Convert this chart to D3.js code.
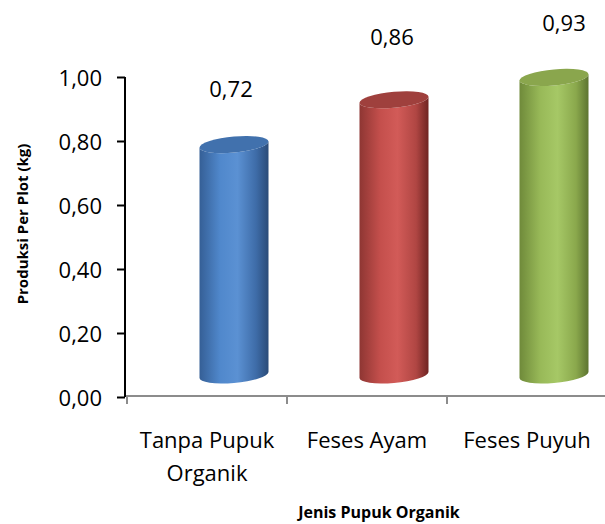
<!DOCTYPE html>
<html>
<head>
<meta charset="utf-8">
<script src="https://cdn.jsdelivr.net/npm/d3@7/dist/d3.min.js"></script>
<style>
	body { margin: 0; background: #fff; }
	svg { display: block; font-family: "Open Sans", sans-serif; }
</style>
</head>
<body>
<div id="chart"></div>
<script>
// data
var categories = [["Tanpa Pupuk", "Organik"], ["Feses Ayam"], ["Feses Puyuh"]];
var values = [0.72, 0.86, 0.93];
var yTicks = [0, 0.2, 0.4, 0.6, 0.8, 1.0];
var colors = [
	{ body: ["#355f96", "#5088cc", "#5b91d3", "#3e6ca8", "#2a4b78"], top: "#4171ad" }
, { body: ["#8e3633", "#c44f4c", "#d25b58", "#b04643", "#6f2422"], top: "#9f403d" }
, { body: ["#6f8a3a", "#98b958", "#a6c866", "#8aa84c", "#5d7430"], top: "#8aa64d" }
];

var width = 605, height = 524;
var margin = { left: 125, right: 0, top: 78, bottom: 126 };
// 3d depth shift of the bars relative to the floor
var depth = { dx: 27, dy: -23 };
var barW = 69, ry = 8, tilt = -5;
// small label nudges (Excel places them a bit irregularly)
var labelShift = [{ x: -3, y: -2 }, { x: -2, y: -9 }, { x: 10, y: 0 }];

var comma = d3.formatLocale({ decimal: ",", thousands: ".", grouping: [3], currency: ["", ""] });
var fmt = comma.format(".2f");

var svg = d3.select('#chart').append('svg')
	.attr('width', width)
	.attr('height', height);

var x = d3.scaleBand()
	.domain(d3.range(categories.length))
	.range([127, 607]);

var y = d3.scaleLinear()
	.domain([0, 1])
	.range([height - margin.bottom, margin.top]);

var defs = svg.append('defs');
colors.forEach(function(c, i) {
	var g = defs.append('linearGradient')
		.attr('id', 'cyl' + i)
		.attr('x1', 0).attr('x2', 1).attr('y1', 0).attr('y2', 0);
	var stops = [0, 0.3, 0.55, 0.82, 1];
	c.body.forEach(function(col, k) {
		g.append('stop').attr('offset', stops[k]).attr('stop-color', col);
	});
});

// floor line + category ticks
svg.append('line')
	.attr('x1', 125).attr('x2', width)
	.attr('y1', y(0) - 2).attr('y2', y(0) - 2)
	.attr('stroke', '#8c8c8c').attr('stroke-width', 2);

var xTickPos = x.domain().map(function(d) { return x(d); }).concat([x.range()[1]]);
svg.selectAll('.xtick')
	.data(xTickPos)
	.enter().append('line')
	.attr('class', 'xtick')
	.attr('x1', function(d) { return d; }).attr('x2', function(d) { return d; })
	.attr('y1', y(0) - 2).attr('y2', y(0) + 6)
	.attr('stroke', '#8c8c8c').attr('stroke-width', 2);

// y axis
var yAxis = d3.axisLeft(y)
	.tickValues(yTicks)
	.tickFormat(fmt)
	.tickSize(8)
	.tickPadding(15);

var ga = svg.append('g')
	.attr('transform', 'translate(' + 125 + ',0)')
	.call(yAxis);
ga.select('.domain').attr('stroke', '#000').attr('stroke-width', 2)
	.attr('d', 'M0,' + (y(1) - 1) + 'V' + (y(0) - 1));
ga.selectAll('.tick line').attr('stroke', '#000').attr('stroke-width', 2)
	.attr('transform', 'translate(0,-1)');
ga.selectAll('.tick text')
	.attr('fill', '#000')
	.style('font-size', '22px')
	.style('font-family', '"Open Sans", sans-serif')
	.attr('dy', '0.36em');

// cylinders
var bars = svg.selectAll('.bar')
	.data(values)
	.enter().append('g')
	.attr('class', 'bar')
	.attr('transform', function(d, i) {
		var cx = x(i) + x.bandwidth() / 2 + depth.dx;
		return 'translate(' + cx + ',0) skewY(' + tilt + ')';
	});

bars.append('path')
	.attr('fill', function(d, i) { return 'url(#cyl' + i + ')'; })
	.attr('d', function(d) {
		var top = y(d) + depth.dy, bot = y(0) + depth.dy, r = barW / 2;
		return 'M' + (-r) + ',' + top +
			'V' + bot +
			'A' + r + ',' + ry + ' 0 0 0 ' + r + ',' + bot +
			'V' + top +
			'A' + r + ',' + ry + ' 0 0 1 ' + (-r) + ',' + top + 'Z';
	});

bars.append('ellipse')
	.attr('cx', 0)
	.attr('cy', function(d) { return y(d) + depth.dy; })
	.attr('rx', barW / 2)
	.attr('ry', ry)
	.attr('fill', function(d, i) { return colors[i].top; });

// value labels
svg.selectAll('.val')
	.data(values)
	.enter().append('text')
	.attr('class', 'val')
	.attr('x', function(d, i) { return x(i) + x.bandwidth() / 2 + depth.dx + labelShift[i].x; })
	.attr('y', function(d, i) { return y(d) + depth.dy - ry - 38 + labelShift[i].y; })
	.attr('text-anchor', 'middle')
	.style('font-size', '22px')
	.text(function(d) { return fmt(d); });

// category labels
var cat = svg.selectAll('.cat')
	.data(categories)
	.enter().append('text')
	.attr('class', 'cat')
	.attr('text-anchor', 'middle')
	.style('font-size', '22px')
	.attr('transform', function(d, i) { return 'translate(' + (x(i) + x.bandwidth() / 2) + ',' + 448 + ')'; });
cat.selectAll('tspan')
	.data(function(d) { return d; })
	.enter().append('tspan')
	.attr('x', 0)
	.attr('dy', function(d, k) { return k ? 33 : 0; })
	.text(function(d) { return d; });

// axis titles
svg.append('text')
	.attr('transform', 'translate(28,224) rotate(-90)')
	.attr('text-anchor', 'middle')
	.style('font-size', '15px')
	.style('font-weight', 'bold')
	.text('Produksi Per Plot (kg)');

svg.append('text')
	.attr('x', 379)
	.attr('y', 518)
	.attr('text-anchor', 'middle')
	.style('font-size', '16px')
	.style('font-weight', 'bold')
	.text('Jenis Pupuk Organik');
</script>
</body>
</html>
